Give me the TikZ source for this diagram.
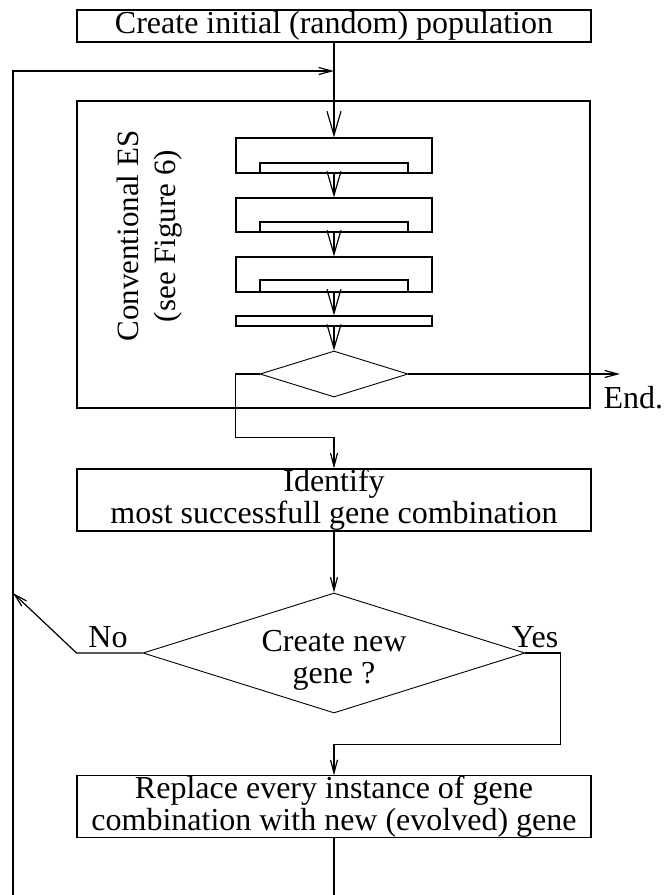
\documentclass[tikz,border=0pt]{standalone}
\usepackage{fontspec}
\setmainfont{Liberation Serif}
\usetikzlibrary{arrows.meta,positioning,shapes.geometric,calc}
\tikzset{
  box/.style={draw, minimum width=514pt, minimum height=32pt, inner sep=0pt, align=center},
  frame/.style={draw, minimum width=513pt, minimum height=307pt, inner sep=0pt},
  block/.style={draw, minimum width=196pt, minimum height=35pt, inner sep=0pt},
  slot/.style={draw, minimum width=148pt, minimum height=10pt, inner sep=0pt},
  decision/.style={draw, diamond, inner sep=0pt, line width=0.9pt},
  flow/.style={-{Straight Barb[length=13pt, width=7pt]}},
  bigflow/.style={-{Straight Barb[length=24pt, width=14pt]}},
  answer/.style={inner sep=0pt}
}
\begin{document}
\begin{tikzpicture}[x=1pt, y=-1pt, line width=1.2pt, font=\fontsize{32}{32}\selectfont]
  \useasboundingbox (0,0) rectangle (664,895);
  \node[box] (init) at (334,26) {Create initial (random) population};
  \node[frame] (es) at (333.5,254.5) {};
  \node[rotate=90, align=center, font=\fontsize{31}{31}\selectfont] (eslabel) at (150,236)
    {Conventional ES\\[6pt](see Figure 6)};

  \node[block] (b1) at (334,155.5) {};
  \node[slot, anchor=south] (s1) at (b1.south) {};
  \node[block, minimum height=34pt] (b2) at (334,215) {};
  \node[slot, anchor=south] (s2) at (b2.south) {};
  \node[block] (b3) at (334,274.5) {};
  \node[slot, minimum height=12pt, anchor=south] (s3) at (b3.south) {};
  \node[block, minimum height=10pt] (b4) at (334,321) {};
  \node[decision, minimum width=148pt, minimum height=46pt] (test) at (334,374) {};
  \node[answer, anchor=base west] (done) at (603,408) {End.};

  \node[box, minimum height=62pt] (ident) at (334,500) {Identify\\most successfull gene combination};
  \node[decision, minimum width=382pt, minimum height=120pt] (ask) at (334,653) {};
  \node[align=center] (asktext) at (334,660) {Create new\\gene ?};
  \node[answer, anchor=base] (no) at (108,647) {No};
  \node[answer, anchor=base] (yes) at (535,647) {Yes};
  \node[box, minimum height=61pt] (repl) at (334,806.5)
    {Replace every instance of gene\\combination with new (evolved) gene};

  \coordinate (loopfoot) at (13,895);
  \coordinate (loopjoin) at (334,71);
  \coordinate (back) at (13,593);
  \coordinate (exit) at (620,374);
  \coordinate (cont) at (334,895);

  \draw[bigflow] (init) -- (b1);
  \draw[flow] (loopfoot) |- (loopjoin);
  \draw[bigflow] (b1) -- (b2);
  \draw[bigflow] (b2) -- (b3);
  \draw[bigflow] (b3) -- (b4);
  \draw[bigflow] (b4) -- (test);
  \draw[flow] (test.east) -- (exit);
  \draw[flow] (test.west) -- ++(-24,0) |- ($(ident.north)+(0,-31)$) -- (ident.north);
  \draw[flow] (ident) -- (ask);
  \draw[flow] (ask.west) -- ++(-66,0) -- (back);
  \draw[flow] (ask.east) -- ++(35,0) |- ($(repl.north)+(0,-31)$) -- (repl.north);
  \draw (repl) -- (cont);
\end{tikzpicture}
\end{document}
